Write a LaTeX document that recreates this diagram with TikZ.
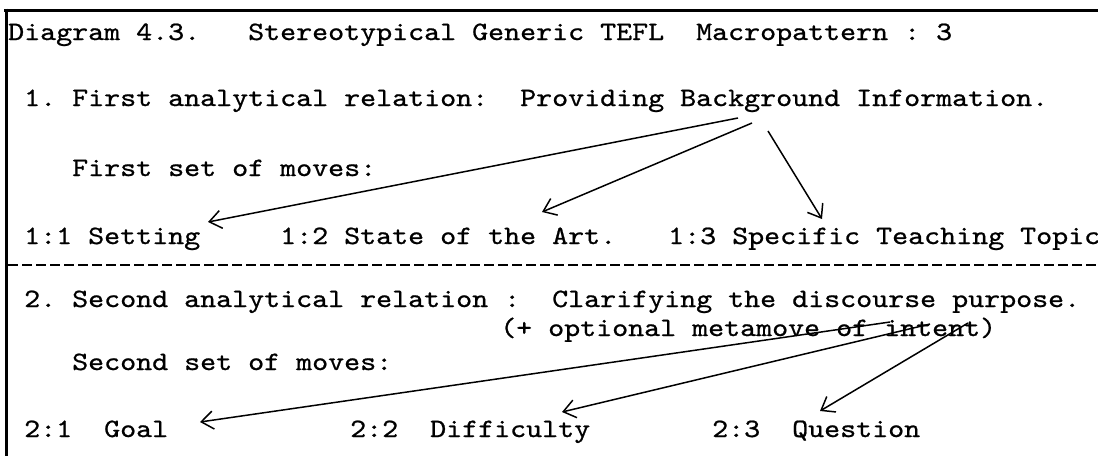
\documentclass[tikz,border=0pt]{standalone}
\usepackage{fontspec}
\newfontfamily\tw{lmmono10-regular.otf}[FakeStretch=1.15,FakeBold=0.8]
\usetikzlibrary{arrows.meta}
\begin{document}
\begin{tikzpicture}[x=1pt,y=-1pt,
  txt/.style={anchor=base west, inner sep=0pt, font=\tw\fontsize{26.5}{30}\selectfont\frenchspacing},
  arr/.style={line width=1.5pt, -{Straight Barb[length=12pt,width=18pt,line width=1.5pt]}},
  frame/.style={line width=3pt},
  sep/.style={line width=1.4pt, dash pattern=on 10pt off 4pt}
]
\clip (0,0) rectangle (1098,456);
\useasboundingbox (0,0) rectangle (1098,456);
% frame
\draw[frame] (4,10) -- (1098,10);
\draw[frame] (6,8.5) -- (6,456);
\draw[sep] (8,265) -- (1098,265);
% texts
\node[txt] (title) at (8,40) {Diagram 4.3.\ \ \ Stereotypical Generic TEFL\ \ Macropattern : 3};
\node[txt] (rel1) at (24,106) {1. First analytical relation:\ \ Providing Background Information.};
\node[txt] (moves1) at (72,176) {First set of moves:};
\node[txt] (m11) at (24,244) {1:1 Setting};
\node[txt] (m12) at (280,244) {1:2 State of the Art.};
\node[txt] (m13) at (668,244) {1:3 Specific Teaching Topic};
\node[txt] (rel2) at (24,307) {2. Second analytical relation :};
\node[txt] (purp) at (552,307) {Clarifying the discourse purpose.};
\node[txt] (meta) at (500,336) {(+ optional metamove of intent)};
\node[txt] (moves2) at (72,370) {Second set of moves:};
\node[txt] (m21) at (24,437) {2:1\ \ Goal};
\node[txt] (m22) at (350,437) {2:2\ \ Difficulty};
\node[txt] (m23) at (712,437) {2:3\ \ Question};
% arrow ends
\coordinate (s1a) at (738,118);
\coordinate (s1b) at (752,123);
\coordinate (s1c) at (768,131);
\coordinate (t11) at (208,222);
\coordinate (t12) at (542,212);
\coordinate (t13) at (822,219);
\coordinate (s2a) at (890,322);
\coordinate (s2b) at (930,324);
\coordinate (s2c) at (968,323);
\coordinate (t21) at (200,422);
\coordinate (t22) at (562,412);
\coordinate (t23) at (820,411);
\draw[arr] (s1a) -- (t11);
\draw[arr] (s1b) -- (t12);
\draw[arr] (s1c) -- (t13);
\draw[arr] (s2a) -- (t21);
\draw[arr] (s2b) -- (t22);
\draw[arr] (s2c) -- (t23);
\end{tikzpicture}
\end{document}
